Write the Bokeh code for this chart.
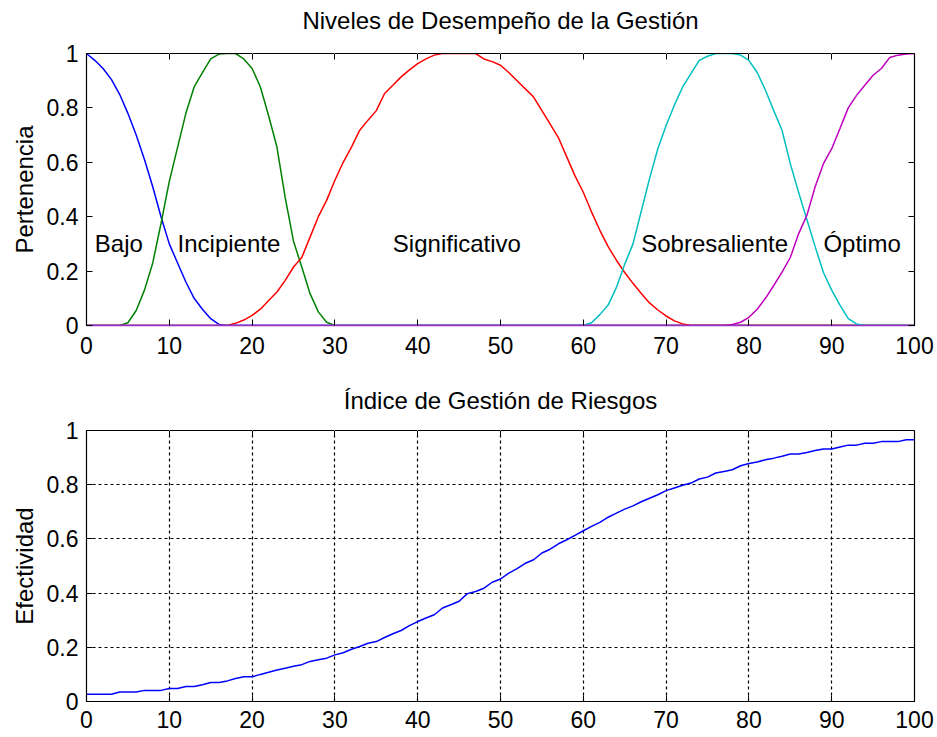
from bokeh.plotting import figure
from bokeh.models import Range1d, FixedTicker, LinearAxis, CustomJSTickFormatter
from bokeh.layouts import column
from bokeh.core.properties import value
from bokeh.embed import file_html
from bokeh.resources import INLINE

FONT = "Liberation Sans"

# ---------------- data: top chart (membership functions) ----------------
bajo_x = [0, 1, 2, 3, 4, 5, 6, 7, 8, 9, 10, 11, 12, 13, 14, 15, 16, 17, 100]
bajo_y = [1.0, 0.975, 0.945, 0.905, 0.85, 0.78, 0.70, 0.61, 0.51, 0.40, 0.30,
          0.23, 0.16, 0.10, 0.06, 0.025, 0.004, 0.0, 0.0]

incip_x = [0, 4, 5, 6, 7, 8, 9, 10, 11, 12, 13, 14, 15, 16, 17, 18, 19, 20,
           21, 22, 23, 24, 25, 26, 27, 28, 29, 30, 100]
incip_y = [0.0, 0.0, 0.01, 0.055, 0.13, 0.23, 0.375, 0.53, 0.655, 0.78, 0.877,
           0.93, 0.98, 0.998, 1.0, 1.0, 0.98, 0.945, 0.877, 0.77, 0.656, 0.47,
           0.31, 0.215, 0.117, 0.05, 0.012, 0.0, 0.0]

signif_x = [0, 17, 18, 19, 20, 21, 22, 23, 24, 25, 26, 27, 28, 29, 30, 31, 32,
            33, 34, 35, 36, 37, 38, 39, 40, 41, 42, 43, 44, 45, 46, 47, 48, 49,
            50, 51, 52, 53, 54, 55, 56, 57, 58, 59, 60, 61, 62, 63, 64, 65, 66,
            67, 68, 69, 70, 71, 72, 73, 100]
signif_y = [0.0, 0.0, 0.008, 0.02, 0.037, 0.06, 0.092, 0.123, 0.166, 0.215,
            0.25, 0.325, 0.40, 0.46, 0.534, 0.60, 0.656, 0.718, 0.755, 0.79,
            0.853, 0.883, 0.914, 0.94, 0.963, 0.98, 0.994, 1.0, 1.0, 1.0, 1.0,
            1.0, 0.98, 0.97, 0.957, 0.93, 0.90, 0.87, 0.84, 0.79, 0.74, 0.69,
            0.62, 0.55, 0.49, 0.417, 0.35, 0.29, 0.24, 0.195, 0.155, 0.118,
            0.083, 0.057, 0.035, 0.017, 0.006, 0.0, 0.0]

sobre_x = [0, 60, 61, 62, 63, 64, 65, 66, 67, 68, 69, 70, 71, 72, 73, 74, 75,
           76, 77, 78, 79, 80, 81, 82, 83, 84, 85, 86, 87, 88, 89, 90, 91, 92,
           93, 94, 100]
sobre_y = [0.0, 0.0, 0.01, 0.04, 0.075, 0.14, 0.225, 0.30, 0.42, 0.54, 0.65,
           0.735, 0.81, 0.877, 0.926, 0.975, 0.99, 1.0, 1.0, 1.0, 0.994, 0.975,
           0.93, 0.865, 0.79, 0.718, 0.595, 0.49, 0.39, 0.29, 0.195, 0.13,
           0.075, 0.025, 0.006, 0.0, 0.0]

optimo_x = [0, 77, 78, 79, 80, 81, 82, 83, 84, 85, 86, 87, 88, 89, 90, 91, 92,
            93, 94, 95, 96, 97, 98, 99, 100]
optimo_y = [0.0, 0.0, 0.004, 0.012, 0.03, 0.06, 0.10, 0.147, 0.196, 0.25,
            0.337, 0.405, 0.51, 0.595, 0.65, 0.724, 0.80, 0.846, 0.883, 0.92,
            0.945, 0.985, 0.994, 0.998, 1.0]

level_names = ["Bajo", "Incipiente", "Significativo", "Sobresaliente", "Óptimo"]
level_colors = ["#0000ff", "#008000", "#ff0000", "#00bfbf", "#bf00bf"]
label_x = [1, 11, 37, 67, 89]
label_y = [0.3, 0.3, 0.3, 0.3, 0.3]

# ---------------- data: bottom chart (risk management index) ----------------
indice_x = list(range(0, 101))
indice_y = [0.027, 0.027, 0.027, 0.027, 0.035, 0.035, 0.035, 0.041, 0.041, 0.041,
            0.048, 0.048, 0.055, 0.055, 0.062, 0.07, 0.07, 0.076, 0.085, 0.091,
            0.091, 0.10, 0.108, 0.116, 0.123, 0.13, 0.136, 0.148, 0.154, 0.16,
            0.172, 0.18, 0.193, 0.203, 0.215, 0.221, 0.236, 0.25, 0.262, 0.28,
            0.295, 0.308, 0.32, 0.345, 0.357, 0.37, 0.398, 0.406, 0.418, 0.44,
            0.452, 0.474, 0.49, 0.51, 0.523, 0.548, 0.562, 0.582, 0.597, 0.613,
            0.63, 0.646, 0.661, 0.68, 0.695, 0.71, 0.722, 0.737, 0.75, 0.763,
            0.778, 0.788, 0.798, 0.806, 0.821, 0.828, 0.843, 0.849, 0.855, 0.87,
            0.878, 0.884, 0.892, 0.898, 0.905, 0.913, 0.913, 0.919, 0.926, 0.932,
            0.932, 0.939, 0.946, 0.946, 0.953, 0.953, 0.959, 0.959, 0.959, 0.966,
            0.966]

x_ticks = [0, 10, 20, 30, 40, 50, 60, 70, 80, 90, 100]
y_ticks = [0, 0.2, 0.4, 0.6, 0.8, 1]

TICK_FS = "23px"
TEXT_FS = "24px"


def make_fig(title, ylabel, min_top, frame_h, min_bottom, x_standoff,
             title_standoff, title_gap, grid):
    p = figure(output_backend="svg", toolbar_location=None,
               frame_width=828, frame_height=frame_h,
               min_border_left=86, min_border_right=20,
               min_border_top=min_top, min_border_bottom=min_bottom,
               x_range=Range1d(0, 100), y_range=Range1d(0, 1),
               background_fill_color="white", border_fill_color="white")
    p.title.text = title
    p.title.align = "center"
    p.title.text_font = FONT
    p.title.text_font_size = TEXT_FS
    p.title.text_font_style = "normal"
    p.title.text_color = "black"
    p.title.standoff = title_standoff
    p.outline_line_color = "black"
    p.outline_line_width = 1.2
    p.outline_line_alpha = 1.0

    xax = p.below[0]
    yax = p.left[0]
    fmt = CustomJSTickFormatter(code="return String(Math.round(tick*10)/10)")
    for ax in (xax, yax):
        ax.major_tick_in = 6
        ax.major_tick_out = 0
        ax.minor_tick_line_color = None
        ax.major_tick_line_color = "black"
        ax.axis_line_color = "black"
        ax.major_label_text_font = FONT
        ax.major_label_text_font_size = TICK_FS
        ax.major_label_text_color = "black"
    xax.ticker = FixedTicker(ticks=x_ticks)
    yax.ticker = FixedTicker(ticks=y_ticks)
    yax.formatter = fmt
    xax.major_label_standoff = x_standoff
    yax.major_label_standoff = 8
    yax.axis_label = ylabel
    yax.axis_label_text_font = FONT
    yax.axis_label_text_font_size = TEXT_FS
    yax.axis_label_text_font_style = "normal"
    yax.axis_label_text_color = "black"
    yax.axis_label_standoff = 6

    # tick marks on the opposite sides (box style), without labels
    top_ax = LinearAxis(ticker=FixedTicker(ticks=x_ticks), major_tick_in=6,
                        major_tick_out=0, minor_tick_line_color=None,
                        major_label_text_font_size="1px", major_label_standoff=0,
                        major_label_text_color=None, axis_line_color="black")
    right_ax = LinearAxis(ticker=FixedTicker(ticks=y_ticks), major_tick_in=6,
                          major_tick_out=0, minor_tick_line_color=None,
                          major_label_text_font_size="1px", major_label_standoff=0,
                          major_label_text_color=None, axis_line_color="black")
    # invisible spacer between the frame and the title
    spacer = LinearAxis(ticker=FixedTicker(ticks=x_ticks), major_tick_in=0,
                        major_tick_out=title_gap, minor_tick_line_color=None,
                        major_tick_line_color="white", axis_line_color=None,
                        major_label_text_font_size="1px", major_label_standoff=0,
                        major_label_text_color=None)
    p.add_layout(top_ax, "above")
    p.add_layout(spacer, "above")
    p.add_layout(right_ax, "right")

    if grid:
        for g in (p.xgrid[0], p.ygrid[0]):
            g.grid_line_color = "black"
            g.grid_line_dash = "3 3"
            g.grid_line_width = 1.2
    else:
        p.xgrid.grid_line_color = None
        p.ygrid.grid_line_color = None
    p.xgrid[0].ticker = FixedTicker(ticks=x_ticks)
    p.ygrid[0].ticker = FixedTicker(ticks=y_ticks)
    return p, xax


p1, p1_xax = make_fig("Niveles de Desempeño de la Gestión", "Pertenencia",
                      53, 272, 37, 11, 6, 17, False)
series = [(bajo_x, bajo_y), (incip_x, incip_y), (signif_x, signif_y),
          (sobre_x, sobre_y), (optimo_x, optimo_y)]
for (xs, ys), c in zip(series, level_colors):
    p1.line(xs, ys, line_color=c, line_width=1.5)
p1_xax.axis_line_color = "#9a30c4"
p1_xax.axis_line_width = 1.6
p1.text(x=label_x, y=label_y, text=level_names, text_align="left",
        text_baseline="middle", text_font=value(FONT),
        text_font_size=value(TEXT_FS), text_color="black")

p2, p2_xax = make_fig("Índice de Gestión de Riesgos", "Efectividad",
                      68, 271, 35, 9, 6, 14, True)
p2.line(indice_x, indice_y, line_color="#0000ff", line_width=1.5)

layout = column(p1, p2, spacing=0)
open("out.html", "w").write(file_html(layout, INLINE))
